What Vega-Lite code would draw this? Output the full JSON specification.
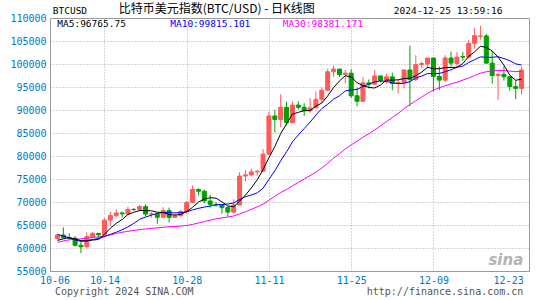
{
  "$schema": "https://vega.github.io/schema/vega-lite/v6.json",
  "width": 479,
  "height": 253,
  "autosize": {"type": "none"},
  "padding": {"left": 50, "top": 18, "right": 16, "bottom": 29},
  "background": "#ffffff",
  "datasets": {
    "k": [
      {"d": "2024-10-06", "o": 62050, "h": 62970, "l": 61830, "c": 62820, "m5": 61660, "m10": 62970, "m30": 61250},
      {"d": "2024-10-07", "o": 62820, "h": 64480, "l": 62130, "c": 62220, "m5": 61990, "m10": 62610, "m30": 61520},
      {"d": "2024-10-08", "o": 62220, "h": 63200, "l": 61830, "c": 62130, "m5": 62260, "m10": 62240, "m30": 61770},
      {"d": "2024-10-09", "o": 62130, "h": 62540, "l": 60300, "c": 60580, "m5": 61960, "m10": 61740, "m30": 61890},
      {"d": "2024-10-10", "o": 60580, "h": 61320, "l": 58900, "c": 60270, "m5": 61600, "m10": 61430, "m30": 61980},
      {"d": "2024-10-11", "o": 60270, "h": 63400, "l": 60060, "c": 62440, "m5": 61530, "m10": 61600, "m30": 62150},
      {"d": "2024-10-12", "o": 62440, "h": 63480, "l": 62300, "c": 63190, "m5": 61720, "m10": 61860, "m30": 62320},
      {"d": "2024-10-13", "o": 63190, "h": 63270, "l": 62080, "c": 62850, "m5": 61870, "m10": 62070, "m30": 62390},
      {"d": "2024-10-14", "o": 62850, "h": 66480, "l": 62460, "c": 66050, "m5": 62960, "m10": 62460, "m30": 62600},
      {"d": "2024-10-15", "o": 66050, "h": 67870, "l": 64820, "c": 67040, "m5": 64310, "m10": 62960, "m30": 62860},
      {"d": "2024-10-16", "o": 67040, "h": 68410, "l": 66750, "c": 67610, "m5": 65350, "m10": 63440, "m30": 63170},
      {"d": "2024-10-17", "o": 67610, "h": 67930, "l": 66680, "c": 67420, "m5": 66190, "m10": 63960, "m30": 63410},
      {"d": "2024-10-18", "o": 67420, "h": 68970, "l": 67170, "c": 68380, "m5": 67300, "m10": 64580, "m30": 63630},
      {"d": "2024-10-19", "o": 68380, "h": 68690, "l": 68050, "c": 68360, "m5": 67760, "m10": 65360, "m30": 63810},
      {"d": "2024-10-20", "o": 68360, "h": 69390, "l": 68010, "c": 69000, "m5": 68150, "m10": 66230, "m30": 64000},
      {"d": "2024-10-21", "o": 69000, "h": 69490, "l": 66870, "c": 67370, "m5": 68110, "m10": 66730, "m30": 64140},
      {"d": "2024-10-22", "o": 67370, "h": 67810, "l": 66610, "c": 67400, "m5": 68100, "m10": 67150, "m30": 64260},
      {"d": "2024-10-23", "o": 67400, "h": 67450, "l": 65260, "c": 66680, "m5": 67760, "m10": 67530, "m30": 64380},
      {"d": "2024-10-24", "o": 66680, "h": 68850, "l": 66570, "c": 68160, "m5": 67720, "m10": 67740, "m30": 64510},
      {"d": "2024-10-25", "o": 68160, "h": 68790, "l": 65560, "c": 66640, "m5": 67250, "m10": 67700, "m30": 64620},
      {"d": "2024-10-26", "o": 66640, "h": 67450, "l": 66590, "c": 67010, "m5": 67180, "m10": 67640, "m30": 64680},
      {"d": "2024-10-27", "o": 67010, "h": 68330, "l": 66790, "c": 67930, "m5": 67280, "m10": 67690, "m30": 64760},
      {"d": "2024-10-28", "o": 67930, "h": 70230, "l": 67500, "c": 69910, "m5": 67930, "m10": 67850, "m30": 64890},
      {"d": "2024-10-29", "o": 69910, "h": 73620, "l": 69730, "c": 72720, "m5": 68840, "m10": 68280, "m30": 65130},
      {"d": "2024-10-30", "o": 72720, "h": 72960, "l": 71430, "c": 72340, "m5": 69980, "m10": 68620, "m30": 65430},
      {"d": "2024-10-31", "o": 72340, "h": 72680, "l": 69700, "c": 70220, "m5": 70620, "m10": 68900, "m30": 65740},
      {"d": "2024-11-01", "o": 70220, "h": 71590, "l": 68820, "c": 69480, "m5": 70930, "m10": 69110, "m30": 66040},
      {"d": "2024-11-02", "o": 69480, "h": 69990, "l": 68980, "c": 69380, "m5": 70830, "m10": 69380, "m30": 66330},
      {"d": "2024-11-03", "o": 69380, "h": 69420, "l": 67450, "c": 68770, "m5": 70040, "m10": 69440, "m30": 66550},
      {"d": "2024-11-04", "o": 68770, "h": 69080, "l": 66840, "c": 67810, "m5": 69130, "m10": 69560, "m30": 66740},
      {"d": "2024-11-05", "o": 67810, "h": 70580, "l": 67460, "c": 69360, "m5": 68960, "m10": 69790, "m30": 66960},
      {"d": "2024-11-06", "o": 69360, "h": 76470, "l": 69300, "c": 75640, "m5": 70190, "m10": 70560, "m30": 67400},
      {"d": "2024-11-07", "o": 75640, "h": 76970, "l": 74470, "c": 75900, "m5": 71500, "m10": 71160, "m30": 67860},
      {"d": "2024-11-08", "o": 75900, "h": 77270, "l": 75580, "c": 76540, "m5": 73050, "m10": 71540, "m30": 68400},
      {"d": "2024-11-09", "o": 76540, "h": 76930, "l": 75730, "c": 76680, "m5": 74820, "m10": 71980, "m30": 68940},
      {"d": "2024-11-10", "o": 76680, "h": 81500, "l": 76480, "c": 80400, "m5": 77030, "m10": 73000, "m30": 69540},
      {"d": "2024-11-11", "o": 80400, "h": 89600, "l": 80200, "c": 88700, "m5": 79640, "m10": 74920, "m30": 70390},
      {"d": "2024-11-12", "o": 88700, "h": 89990, "l": 85100, "c": 87950, "m5": 82050, "m10": 76780, "m30": 71230},
      {"d": "2024-11-13", "o": 87950, "h": 93430, "l": 86260, "c": 90580, "m5": 84860, "m10": 78960, "m30": 72050},
      {"d": "2024-11-14", "o": 90580, "h": 91770, "l": 86670, "c": 87250, "m5": 86980, "m10": 80900, "m30": 72720},
      {"d": "2024-11-15", "o": 87250, "h": 91860, "l": 87090, "c": 91070, "m5": 89110, "m10": 83070, "m30": 73500},
      {"d": "2024-11-16", "o": 91070, "h": 91900, "l": 90090, "c": 90600, "m5": 89490, "m10": 84570, "m30": 74270},
      {"d": "2024-11-17", "o": 90600, "h": 91450, "l": 88720, "c": 89850, "m5": 89870, "m10": 85960, "m30": 74990},
      {"d": "2024-11-18", "o": 89850, "h": 92600, "l": 89380, "c": 90460, "m5": 89850, "m10": 87350, "m30": 75730},
      {"d": "2024-11-19", "o": 90460, "h": 94000, "l": 90380, "c": 92310, "m5": 90860, "m10": 88920, "m30": 76500},
      {"d": "2024-11-20", "o": 92310, "h": 94860, "l": 91600, "c": 94290, "m5": 91500, "m10": 90310, "m30": 77400},
      {"d": "2024-11-21", "o": 94290, "h": 98960, "l": 94100, "c": 98320, "m5": 93050, "m10": 91270, "m30": 78430},
      {"d": "2024-11-22", "o": 98320, "h": 99600, "l": 97200, "c": 98900, "m5": 94860, "m10": 92360, "m30": 79510},
      {"d": "2024-11-23", "o": 98900, "h": 98900, "l": 97200, "c": 97700, "m5": 96300, "m10": 93080, "m30": 80490},
      {"d": "2024-11-24", "o": 97700, "h": 98700, "l": 95800, "c": 98000, "m5": 97440, "m10": 94150, "m30": 81540},
      {"d": "2024-11-25", "o": 98000, "h": 98900, "l": 92600, "c": 93100, "m5": 97200, "m10": 94350, "m30": 82410},
      {"d": "2024-11-26", "o": 93100, "h": 94800, "l": 90800, "c": 91900, "m5": 95920, "m10": 94480, "m30": 83200},
      {"d": "2024-11-27", "o": 91900, "h": 97200, "l": 91800, "c": 95900, "m5": 95320, "m10": 95090, "m30": 84070},
      {"d": "2024-11-28", "o": 95900, "h": 96650, "l": 94700, "c": 95600, "m5": 94900, "m10": 95600, "m30": 84830},
      {"d": "2024-11-29", "o": 95600, "h": 98700, "l": 95400, "c": 97400, "m5": 94780, "m10": 96110, "m30": 85670},
      {"d": "2024-11-30", "o": 97400, "h": 97500, "l": 96000, "c": 96400, "m5": 95440, "m10": 96320, "m30": 86540},
      {"d": "2024-12-01", "o": 96400, "h": 97900, "l": 95700, "c": 97200, "m5": 96500, "m10": 96210, "m30": 87470},
      {"d": "2024-12-02", "o": 97200, "h": 98100, "l": 94300, "c": 95800, "m5": 96480, "m10": 95900, "m30": 88350},
      {"d": "2024-12-03", "o": 95800, "h": 96500, "l": 93600, "c": 96000, "m5": 96560, "m10": 95730, "m30": 89250},
      {"d": "2024-12-04", "o": 96000, "h": 98800, "l": 94700, "c": 98700, "m5": 96840, "m10": 95810, "m30": 90290},
      {"d": "2024-12-05", "o": 98700, "h": 104000, "l": 90800, "c": 96600, "m5": 96880, "m10": 96160, "m30": 91190},
      {"d": "2024-12-06", "o": 96600, "h": 101900, "l": 96300, "c": 99900, "m5": 97420, "m10": 96960, "m30": 92000},
      {"d": "2024-12-07", "o": 99900, "h": 100550, "l": 99100, "c": 100100, "m5": 98240, "m10": 97360, "m30": 92800},
      {"d": "2024-12-08", "o": 100000, "h": 101300, "l": 99000, "c": 101300, "m5": 99280, "m10": 97920, "m30": 93630},
      {"d": "2024-12-09", "o": 101300, "h": 101400, "l": 94000, "c": 97300, "m5": 98980, "m10": 97910, "m30": 94310},
      {"d": "2024-12-10", "o": 97300, "h": 99500, "l": 94300, "c": 96500, "m5": 98980, "m10": 97930, "m30": 94850},
      {"d": "2024-12-11", "o": 96500, "h": 101900, "l": 96000, "c": 101300, "m5": 99220, "m10": 98320, "m30": 95270},
      {"d": "2024-12-12", "o": 101300, "h": 102700, "l": 99400, "c": 100200, "m5": 99240, "m10": 98740, "m30": 95670},
      {"d": "2024-12-13", "o": 100100, "h": 102600, "l": 99300, "c": 101500, "m5": 99280, "m10": 99280, "m30": 96030},
      {"d": "2024-12-14", "o": 101600, "h": 102600, "l": 100700, "c": 101500, "m5": 100090, "m10": 99540, "m30": 96500},
      {"d": "2024-12-15", "o": 101500, "h": 105200, "l": 101200, "c": 104500, "m5": 101650, "m10": 100320, "m30": 96940},
      {"d": "2024-12-16", "o": 104500, "h": 107800, "l": 103300, "c": 106200, "m5": 102630, "m10": 100930, "m30": 97460},
      {"d": "2024-12-17", "o": 106000, "h": 108300, "l": 105300, "c": 106100, "m5": 103850, "m10": 101550, "m30": 98000},
      {"d": "2024-12-18", "o": 106100, "h": 106500, "l": 100000, "c": 100200, "m5": 103610, "m10": 101450, "m30": 98320},
      {"d": "2024-12-19", "o": 100200, "h": 102800, "l": 95700, "c": 97500, "m5": 102840, "m10": 101470, "m30": 98500},
      {"d": "2024-12-20", "o": 97460, "h": 98150, "l": 92230, "c": 97760, "m5": 101510, "m10": 101580, "m30": 98610},
      {"d": "2024-12-21", "o": 97760, "h": 99540, "l": 96400, "c": 97220, "m5": 99760, "m10": 101190, "m30": 98570},
      {"d": "2024-12-22", "o": 97220, "h": 97350, "l": 94200, "c": 95100, "m5": 97560, "m10": 100700, "m30": 98450},
      {"d": "2024-12-23", "o": 95100, "h": 96400, "l": 92400, "c": 94700, "m5": 96460, "m10": 100030, "m30": 98350},
      {"d": "2024-12-24", "o": 94700, "h": 99400, "l": 93400, "c": 98700, "m5": 96700, "m10": 99770, "m30": 98370}
    ]
  },
  "layer": [
    {
      "data": {"name": "k"},
      "mark": {"type": "rule", "strokeWidth": 1},
      "encoding": {
        "x": {
          "field": "d", "type": "temporal",
          "scale": {"type": "utc", "domain": [{"year": 2024, "month": 10, "date": 5, "hours": 14, "utc": true}, {"year": 2024, "month": 12, "date": 24, "hours": 10, "utc": true}]},
          "axis": {
            "title": null, "domain": false, "ticks": false, "grid": true, "tickCount": 20,
            "values": [{"year": 2024, "month": 10, "date": 6, "utc": true}, {"year": 2024, "month": 10, "date": 14, "utc": true}, {"year": 2024, "month": 10, "date": 28, "utc": true}, {"year": 2024, "month": 11, "date": 11, "utc": true}, {"year": 2024, "month": 11, "date": 25, "utc": true}, {"year": 2024, "month": 12, "date": 9, "utc": true}, {"year": 2024, "month": 12, "date": 23, "utc": true}],
            "labelExpr": "utcFormat(datum.value, '%m-%d')",
            "labelFlush": false, "labelOverlap": false,
            "labelFont": "DejaVu Sans Mono", "labelFontSize": 10, "labelColor": "#0078c8", "labelPadding": 4,
            "labelAlign": {"condition": {"test": "datum.value > utc(2024,11,20)", "value": "right"}, "value": "center"},
            "labelOffset": {"condition": [{"test": "datum.value < utc(2024,9,10)", "value": -3}, {"test": "datum.value > utc(2024,11,20)", "value": 7.5}], "value": 0},
            "gridColor": "#aaaaaa", "gridDash": [1, 2], "gridWidth": 1,
            "gridOpacity": {"condition": {"test": "datum.value < utc(2024,9,10) || datum.value > utc(2024,11,20)", "value": 0}, "value": 1}
          }
        },
        "y": {
          "field": "l", "type": "quantitative",
          "scale": {"domain": [55000, 110000], "zero": false, "nice": false},
          "axis": {
            "title": null, "domain": false, "ticks": false, "grid": true, "tickCount": 20,
            "values": [55000, 60000, 65000, 70000, 75000, 80000, 85000, 90000, 95000, 100000, 105000, 110000],
            "labelOverlap": false, "labelFlush": false,
            "labelExpr": "format(datum.value, 'd')",
            "labelFont": "DejaVu Sans Mono", "labelFontSize": 10, "labelColor": "#0078c8", "labelPadding": 4,
            "gridColor": "#aaaaaa", "gridDash": [1, 2], "gridWidth": 1,
            "gridOpacity": {"condition": {"test": "datum.value < 56000 || datum.value > 109000", "value": 0}, "value": 1}
          }
        },
        "y2": {"field": "h"},
        "color": {"condition": {"test": "datum.c >= datum.o", "value": "#ff5a5a"}, "value": "#00a000"}
      }
    },
    {
      "data": {"name": "k"},
      "mark": {"type": "bar", "width": 4, "strokeWidth": 1},
      "encoding": {
        "x": {"field": "d", "type": "temporal"},
        "y": {"field": "o", "type": "quantitative"},
        "y2": {"field": "c"},
        "color": {"condition": {"test": "datum.c >= datum.o", "value": "#ff5a5a"}, "value": "#00a000"},
        "stroke": {"condition": {"test": "datum.c >= datum.o", "value": "#ff5a5a"}, "value": "#00a000"}
      }
    },
    {
      "data": {"name": "k"},
      "mark": {"type": "line", "color": "#ff00ff", "strokeWidth": 1},
      "encoding": {"x": {"field": "d", "type": "temporal"}, "y": {"field": "m30", "type": "quantitative"}}
    },
    {
      "data": {"name": "k"},
      "mark": {"type": "line", "color": "#0000ff", "strokeWidth": 1},
      "encoding": {"x": {"field": "d", "type": "temporal"}, "y": {"field": "m10", "type": "quantitative"}}
    },
    {
      "data": {"name": "k"},
      "mark": {"type": "line", "color": "#000000", "strokeWidth": 1},
      "encoding": {"x": {"field": "d", "type": "temporal"}, "y": {"field": "m5", "type": "quantitative"}}
    },
    {
      "data": {"values": [{"d": "2024-10-05T04:48:00Z", "v": 111630, "label": "BTCUSD"}]},
      "mark": {"type": "text", "align": "left", "baseline": "middle", "font": "DejaVu Sans Mono", "fontSize": 9.5, "color": "#000000"},
      "encoding": {"x": {"field": "d", "type": "temporal"}, "y": {"field": "v", "type": "quantitative"}, "text": {"field": "label"}}
    },
    {
      "data": {"values": [{"d": "2024-10-16T10:00:00Z", "v": 111850, "label": "比特币美元指数(BTC/USD) - 日K线图"}]},
      "mark": {"type": "text", "align": "left", "baseline": "middle", "font": "Noto Sans CJK SC", "fontSize": 12, "color": "#000000"},
      "encoding": {"x": {"field": "d", "type": "temporal"}, "y": {"field": "v", "type": "quantitative"}, "text": {"field": "label"}}
    },
    {
      "data": {"values": [{"d": "2024-12-20T18:00:00Z", "v": 111630, "label": "2024-12-25 13:59:16"}]},
      "mark": {"type": "text", "align": "right", "baseline": "middle", "font": "DejaVu Sans Mono", "fontSize": 9.5, "color": "#000000"},
      "encoding": {"x": {"field": "d", "type": "temporal"}, "y": {"field": "v", "type": "quantitative"}, "text": {"field": "label"}}
    },
    {
      "data": {"values": [{"d": "2024-10-05T23:12:00Z", "v": 108700, "label": "MA5:96765.75"}]},
      "mark": {"type": "text", "align": "left", "baseline": "middle", "font": "DejaVu Sans Mono", "fontSize": 9.5, "color": "#000000"},
      "encoding": {"x": {"field": "d", "type": "temporal"}, "y": {"field": "v", "type": "quantitative"}, "text": {"field": "label"}}
    },
    {
      "data": {"values": [{"d": "2024-10-25T04:48:00Z", "v": 108700, "label": "MA10:99815.101"}]},
      "mark": {"type": "text", "align": "left", "baseline": "middle", "font": "DejaVu Sans Mono", "fontSize": 9.5, "color": "#0000ff"},
      "encoding": {"x": {"field": "d", "type": "temporal"}, "y": {"field": "v", "type": "quantitative"}, "text": {"field": "label"}}
    },
    {
      "data": {"values": [{"d": "2024-11-13T08:48:00Z", "v": 108700, "label": "MA30:98381.171"}]},
      "mark": {"type": "text", "align": "left", "baseline": "middle", "font": "DejaVu Sans Mono", "fontSize": 9.5, "color": "#ff00ff"},
      "encoding": {"x": {"field": "d", "type": "temporal"}, "y": {"field": "v", "type": "quantitative"}, "text": {"field": "label"}}
    },
    {
      "data": {"values": [{"d": "2024-10-05T14:00:00Z", "v": 50330, "label": "Copyright 2024 SINA.COM"}]},
      "mark": {"type": "text", "align": "left", "baseline": "middle", "font": "DejaVu Sans Mono", "fontSize": 10, "color": "#555555"},
      "encoding": {"x": {"field": "d", "type": "temporal"}, "y": {"field": "v", "type": "quantitative"}, "text": {"field": "label"}}
    },
    {
      "data": {"values": [{"d": "2024-12-24T07:12:00Z", "v": 50330, "label": "http://finance.sina.com.cn"}]},
      "mark": {"type": "text", "align": "right", "baseline": "middle", "font": "DejaVu Sans Mono", "fontSize": 10, "color": "#555555"},
      "encoding": {"x": {"field": "d", "type": "temporal"}, "y": {"field": "v", "type": "quantitative"}, "text": {"field": "label"}}
    },
    {
      "data": {"values": [{"d": "2024-12-24T07:00:00Z", "v": 56300, "label": "sina"}]},
      "mark": {"type": "text", "align": "right", "baseline": "alphabetic", "font": "DejaVu Sans", "fontSize": 15, "fontStyle": "italic", "fontWeight": "bold", "color": "#b4b4b4"},
      "encoding": {"x": {"field": "d", "type": "temporal"}, "y": {"field": "v", "type": "quantitative"}, "text": {"field": "label"}}
    }
  ],
  "config": {
    "view": {"stroke": "#999999", "strokeWidth": 1},
    "axis": {"labelFontWeight": "normal", "labelOverlap": false}
  }
}
